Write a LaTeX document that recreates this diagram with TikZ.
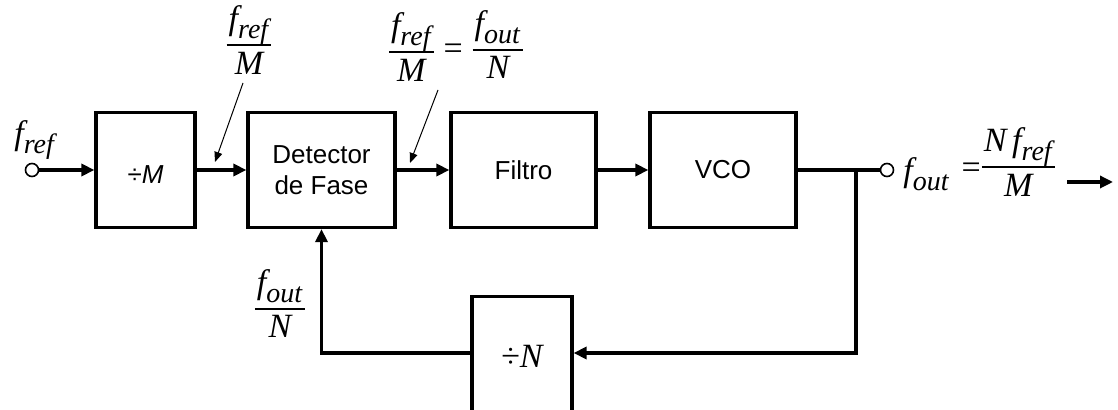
\documentclass[tikz,border=0pt]{standalone}
\usepackage{amsmath}
\usepackage{fontspec}
\setmainfont{Liberation Serif}
\setsansfont{Liberation Sans}
\usetikzlibrary{arrows.meta}
\DeclareMathSizes{17}{17}{14}{11}
\newcommand{\vi}[1]{\text{\itshape #1}}
\newcommand{\fr}[2]{{\setlength{\arraycolsep}{1pt}\setlength{\arrayrulewidth}{1pt}\begin{array}{c}#1\\[1pt]\hline #2\end{array}}}
\begin{document}
\begin{tikzpicture}[x=0.5pt,y=-0.5pt,
  blk/.style={draw, line width=1.6pt, inner sep=0pt, font=\sffamily\fontsize{13}{15.5}\selectfont},
  arr/.style={line width=1.6pt, -{Triangle[length=6.5pt,width=6pt]}},
  ln/.style={line width=1.6pt},
  ptr/.style={line width=0.5pt, -{Triangle[length=5pt,width=4pt]}},
  lab/.style={font=\fontsize{17}{20}\selectfont, inner sep=0pt},
  port/.style={circle, draw, line width=0.8pt, minimum size=6.5pt, inner sep=0pt}]
\useasboundingbox (0,0) rectangle (1118,410);
\clip (0,0) rectangle (1118,410);
% blocks
\node[blk, minimum width=49.5pt, minimum height=57.5pt] (divM) at (145.5,170) {\raisebox{-7pt}[0pt][0pt]{÷\itshape M}};
\node[blk, minimum width=73.5pt, minimum height=57.5pt, align=center] (det) at (321.5,170) {Detector\\de Fase};
\node[blk, minimum width=72.5pt, minimum height=57.5pt] (filt) at (523.5,170) {Filtro};
\node[blk, minimum width=73pt, minimum height=57.5pt] (vco) at (723,170) {VCO};
\node[blk, minimum width=50pt, minimum height=70pt, anchor=north] (divN) at (522,295) {};
\node[lab] (divNt) at (522,356) {÷\itshape N};
% ports
\node[port] (in) at (32,170) {};
\node[port] (out) at (887,170) {};
\coordinate (j) at (856,170);
\coordinate (fb) at (856,353);
% connectors
\draw[arr] (in) -- (divM);
\draw[arr] (divM) -- (det);
\draw[arr] (det) -- (filt);
\draw[arr] (filt) -- (vco);
\draw[ln] (vco) -- (out);
\draw[arr] (j) -- (fb) -- (fb -| divN.east);
\draw[arr] (fb -| divN.west) -| (det.south);
% labels
\node[lab, anchor=base west] (lin) at (14,145) {$\vi{f}_{\vi{ref}}$};
\node[lab] (l1) at (249,44) {$\fr{\vi{f}_{\vi{ref}}}{\vi{M}}$};
\coordinate (p1a) at (243,83);
\coordinate (p1b) at (215,162);
\draw[ptr] (p1a) -- (p1b);
\node[lab] (l2) at (456,50) {$\fr{\vi{f}_{\vi{ref}}}{\vi{M}}\hspace{5pt}\text{=}\hspace{5pt}\raisebox{1pt}{$\fr{\vi{f}_{\vi{out}}}{\vi{N}}$}$};
\coordinate (p2a) at (438,90);
\coordinate (p2b) at (410,163);
\draw[ptr] (p2a) -- (p2b);
\node[lab] (l3) at (280,308) {$\fr{\vi{f}_{\vi{out}}}{\vi{N}}$};
\node[lab, anchor=base west] (l4) at (903,182) {$\vi{f}_{\vi{out}}\hspace{6pt}\raisebox{1.5pt}{\text{=}}\hspace{0.5pt}\raisebox{3.75pt}{$\fr{\vi{N}\,\vi{f}_{\vi{ref}}}{\vi{M}}$}$};
\coordinate (oa) at (1067,182);
\coordinate (ob) at (1113,182);
\draw[arr] (oa) -- (ob);
\end{tikzpicture}
\end{document}
